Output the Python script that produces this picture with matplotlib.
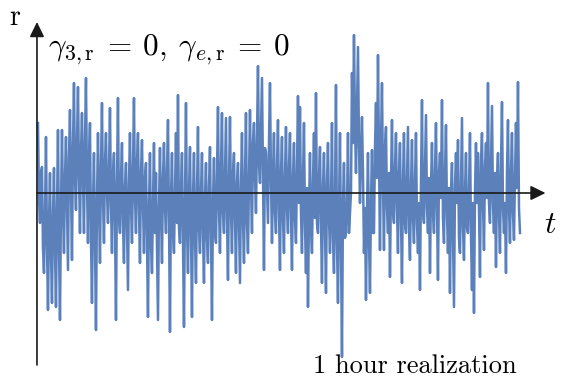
import numpy as np
import matplotlib
matplotlib.use("Agg")
import matplotlib.pyplot as plt

plt.rcParams['mathtext.fontset'] = 'cm'

# realization values (arbitrary units).
# "outer" = the spikes seen every ~2 px, "inner" = the dense oscillation between them
r_outer_a = [7.0, -3.0, 2.6, -8.0, 5.6, -11.7, 2.0, -11.0, 2.5, -11.4, 6.3, -12.7, 6.3, -6.0, 5.6,
             -7.7, 8.3, -6.7, 11.0, -1.7, 10.6, -4.0, 8.0, -4.0, 11.5, -5.0, 7.0, -11.0, 4.0, -13.7]
r_inner_a = [-0.5, 2.0, -5.5, -2.5, -5.0, -3.0, -6.0, -2.5, -5.5, -2.0, -5.0, -1.5, -1.5, 1.5, -1.0,
             3.5, 1.0, 4.5, 1.5, 5.0, 2.0, 4.0, 1.5, 5.0, 1.0, 3.5, -4.5, -1.0, -5.0, -1.0]
r_outer_b = [6.0, -7.0, 9.0, -5.0, 6.0, -3.0, 8.5, -6.0, 4.0, -12.7, 9.5, -4.0, 5.0, -7.0, 3.0,
             -9.7, 6.0, -5.0, 9.5, -4.0, 6.0, -7.0, 5.3, -6.0, 3.0, -12.4, 4.0, -8.0, 5.0, 2.0,
             -12.7, 4.5, -7.0, 5.0, -4.0, 7.3, -13.9, 4.0, -6.0, 6.0, 9.8, -5.0, 4.0, -13.4, 9.0,
             -8.0, 4.6, -12.4, 4.0, -9.0, 6.6]
r_inner_b = [-1.0, 2.5, -0.5, 3.0, 0.0, 2.0, -1.0, 2.0, -3.0, 1.0, -2.5, 1.5, -3.0, 0.5, -3.5,
             1.0, -1.0, 2.5, -0.5, 3.0, -1.5, 2.0, -1.0, 1.5, -4.5, -1.5, -5.0, -1.0, -4.0, -5.5,
             -1.5, -2.0, 1.5, -1.5, 2.0, -2.5, -0.5, -4.0, 0.0, -3.0, -3.5, 0.5, -4.5, -1.0, -3.5,
             0.0, -4.0, -0.5, -4.5, 0.0, -3.5]
r_outer_c = [-6.0, 4.0, -9.0, 3.0, -7.0, 4.6, -12.7, 3.5, -5.0, 8.6, -6.0, 8.0, -4.0, 7.5, -8.7,
             7.6, -6.0, 4.0, -8.0, 3.0, -9.0, 6.0, -7.0, 8.0, -6.0, 8.3, -4.0, 7.0, -2.0, 12.7,
             1.0, 11.5, -7.7, 4.0, -3.0, 11.0, -5.0, 6.0, -4.0, 7.3, -7.7, 5.6, -6.0, 6.6, -4.0,
             6.0, -7.7, 5.0, -5.0, 9.7, 8.6]
r_inner_c = [0.0, -4.0, -0.5, -4.5, 0.5, -4.0, -1.0, -4.0, 2.0, -1.5, 2.5, -2.0, 1.5, -2.5, 1.0,
             -1.5, 2.0, -2.5, 1.0, -3.0, 0.5, -2.5, 1.5, -3.0, 1.0, 1.0, 5.0, 1.5, 5.5, 3.0,
             6.0, 2.0, 4.5, 0.5, 5.0, 1.5, 2.0, -2.0, 2.5, -1.5, 2.0, -2.5, 1.5, -1.5, 2.5,
             -2.0, 1.5, -2.5, 2.0, -1.0, -2.0]
r_outer_d = [-6.0, 7.0, -8.0, -11.4, 4.0, -6.0, 6.0, 10.0, -4.0, 4.6, -9.0, 4.0, -10.0, 5.0, -6.0,
             7.0, -8.0, 10.8, -11.0, 6.0, -16.4, 3.0, -4.0, 6.0, -2.0, 12.0, 15.8, 2.0, 14.6, -1.0,
             7.6, -6.0, -10.7, 4.0, -10.0, 4.3, -4.0, 9.0, 13.8, -5.7, 11.0, -5.7, 6.6, -4.0, -8.4,
             7.3, -3.0, 6.0, -6.0, 5.0]
r_inner_d = [1.5, -3.0, 0.5, -2.0, -3.5, 1.0, -2.5, -3.0, 1.5, -3.0, 0.5, -3.5, 1.0, -2.5, -1.0,
             -4.5, -1.0, -5.0, -1.5, -5.0, -1.0, -4.5, -1.5, -4.0, 0.0, 5.0, 7.0, 8.0, 5.0, 4.0,
             2.0, -1.5, -2.0, -4.5, -1.0, -4.0, 4.5, 1.5, 4.0, 5.0, 1.0, 4.5, -1.5, 2.0, 1.0,
             -2.0, 2.5, -1.5, 2.0, -2.5]
r_outer_e = [-9.0, 6.0, -4.0, 6.6, -6.7, 5.3, -5.0, 6.0, -6.0, -9.7, 9.3, -3.0, 7.8, -4.0, -8.0,
             5.0, -4.0, 7.0, -8.7, 4.0, 9.3, -5.0, 6.8, -6.0, -10.0, 3.0, -11.4, 4.0, 5.3, -6.0,
             7.5, -6.7, 4.0, -4.0, 6.0, -9.7, -12.0, 5.0, 4.0, -8.4, 6.0, -5.7, 5.0, 11.0, -3.0,
             8.7, -4.0, -7.4, 4.0, -6.0, 9.1, -4.0, -8.0, 7.3, -5.0, 6.0, -4.7, 7.0, 11.1, -4.0]
r_inner_e = [1.0, -3.0, 1.5, -3.5, 0.5, -2.5, 1.0, -3.0, -1.0, 1.0, -2.0, 2.5, -1.5, 1.5, 0.5,
             -2.0, 2.0, -1.5, 2.0, -0.5, -2.5, 2.0, -2.0, 0.5, 0.0, -4.0, 0.5, -1.0, -4.5, 1.0,
             -3.5, 0.0, -3.5, 0.0, -4.0, -1.0, 0.0, -1.0, -1.5, 3.0, -1.0, 2.5, -0.5, -1.0, 3.0,
             -1.0, 2.0, 1.5, -2.0, 2.5, -1.5, -1.0, 2.0, -1.5, 2.0, -2.0, 1.5, 0.5, -1.5]

r_outer = r_outer_a + r_outer_b + r_outer_c + r_outer_d + r_outer_e
r_inner = r_inner_a + r_inner_b + r_inner_c + r_inner_d + r_inner_e

r_values = []
for i, v in enumerate(r_outer):
    r_values.append(v)
    if i < len(r_inner):
        r_values.append(r_inner[i])
r_values = np.array(r_values)
t_hours = np.linspace(0.0, 1.0, len(r_values))

title_text = r"$\gamma_{3,\mathrm{r}}\:=\:0,\:\gamma_{e,\mathrm{r}}\:=\:0$"
y_label = "r"
x_label = r"$t$"
note_text = "1 hour realization"

fig = plt.figure(figsize=(5.65, 3.83), dpi=100)
ax = fig.add_axes([0, 0, 1, 1])
ax.set_xlim(-0.0788, 1.0934)
ax.set_ylim(-19.0, 19.3)
ax.axis('off')

ax.plot(t_hours, r_values, color='#5c81ba', lw=1.8, zorder=2)

x0 = -0.0021
arrow_kw = dict(arrowstyle='-|>,head_length=0.45,head_width=0.22', color='#1a1a1a',
                lw=1.2, mutation_scale=20, shrinkA=0, shrinkB=0)
ax.annotate('', xy=(1.053, 0), xytext=(x0, 0), arrowprops=arrow_kw, zorder=3)
ax.annotate('', xy=(x0, 17.1), xytext=(x0, -17.2), arrowprops=arrow_kw, zorder=3)

ax.text(-0.0477, 16.8, y_label, fontfamily='cmr10', fontsize=20, ha='center', va='baseline')
ax.text(1.062, -4.0, x_label, fontsize=23, ha='center', va='baseline')
ax.text(0.0207, 13.8, title_text, fontsize=22.5, ha='left', va='baseline')
ax.text(0.5705, -18.0, note_text, fontfamily='cmr10', fontsize=19, ha='left', va='baseline')

fig.savefig('out.png', dpi=100)
